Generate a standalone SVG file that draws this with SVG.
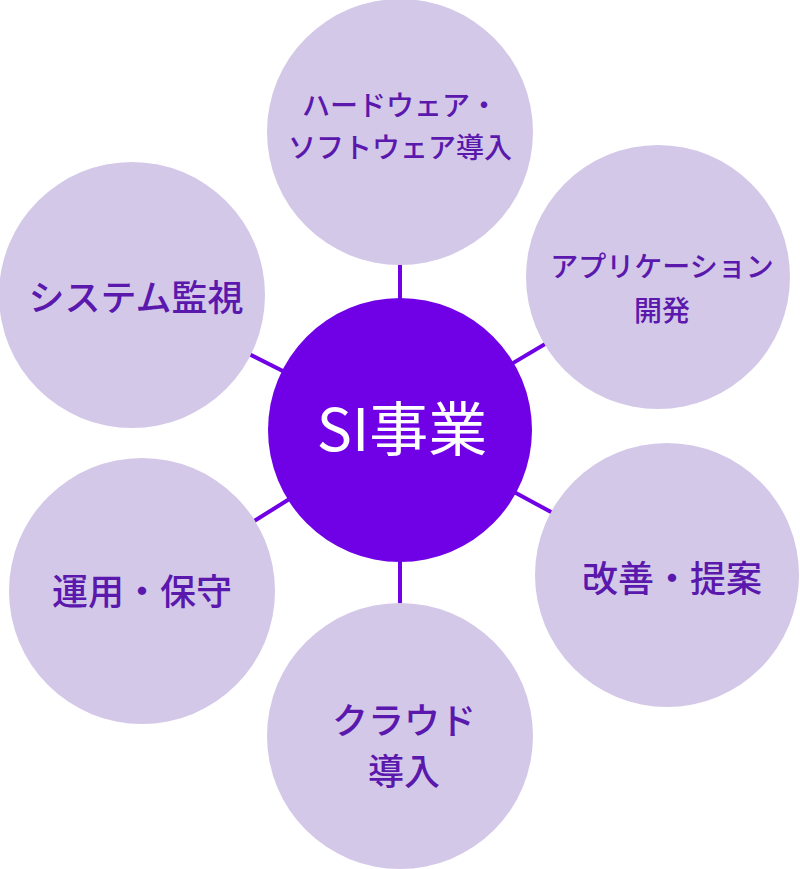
<svg xmlns="http://www.w3.org/2000/svg" width="800" height="869" viewBox="0 0 800 869">
<style>
.outer{fill:#d4c8e8}
.hub{fill:#7000e6}
.conn{stroke:#7000e6;stroke-width:4;fill:none}
.lbl{font-family:"Noto Sans CJK JP","Noto Sans",sans-serif;fill:#5a18ad;text-anchor:middle}
.big{font-size:36px;font-weight:500}
.small{font-size:28px;font-weight:500}
.hubt{font-family:"Noto Sans CJK JP","Noto Sans",sans-serif;fill:#ffffff;font-size:59px;font-weight:400;text-anchor:middle}
</style>
<rect width="800" height="869" fill="#ffffff"/>
<g id="connectors">
<line class="conn" x1="400" y1="430" x2="400" y2="132"/>
<line class="conn" x1="400" y1="430" x2="658" y2="277"/>
<line class="conn" x1="400" y1="430" x2="667" y2="575"/>
<line class="conn" x1="400" y1="430" x2="400" y2="736"/>
<line class="conn" x1="400" y1="430" x2="142" y2="591"/>
<line class="conn" x1="400" y1="430" x2="132" y2="295"/>
</g>
<g id="node-hardware">
<circle class="outer" cx="400" cy="132" r="133"/>
<text class="lbl small"><tspan x="400" y="116">ハードウェア・</tspan><tspan x="400" y="158">ソフトウェア導入</tspan></text>
</g>
<g id="node-app">
<circle class="outer" cx="658" cy="277" r="132"/>
<text class="lbl small"><tspan x="662" y="277">アプリケーション</tspan><tspan x="662" y="321">開発</tspan></text>
</g>
<g id="node-kaizen">
<circle class="outer" cx="667" cy="575" r="132"/>
<text class="lbl big" x="672" y="592">改善・提案</text>
</g>
<g id="node-cloud">
<circle class="outer" cx="400" cy="736" r="133"/>
<text class="lbl big"><tspan x="404" y="734">クラウド</tspan><tspan x="404" y="785">導入</tspan></text>
</g>
<g id="node-unyou">
<circle class="outer" cx="142" cy="591" r="133"/>
<text class="lbl big" x="142" y="605">運用・保守</text>
</g>
<g id="node-kanshi">
<circle class="outer" cx="132" cy="295" r="133"/>
<text class="lbl big" x="136" y="311">システム監視</text>
</g>
<g id="node-si">
<circle class="hub" cx="400" cy="430" r="132"/>
<text class="hubt" x="402" y="451">SI事業</text>
</g>
</svg>
